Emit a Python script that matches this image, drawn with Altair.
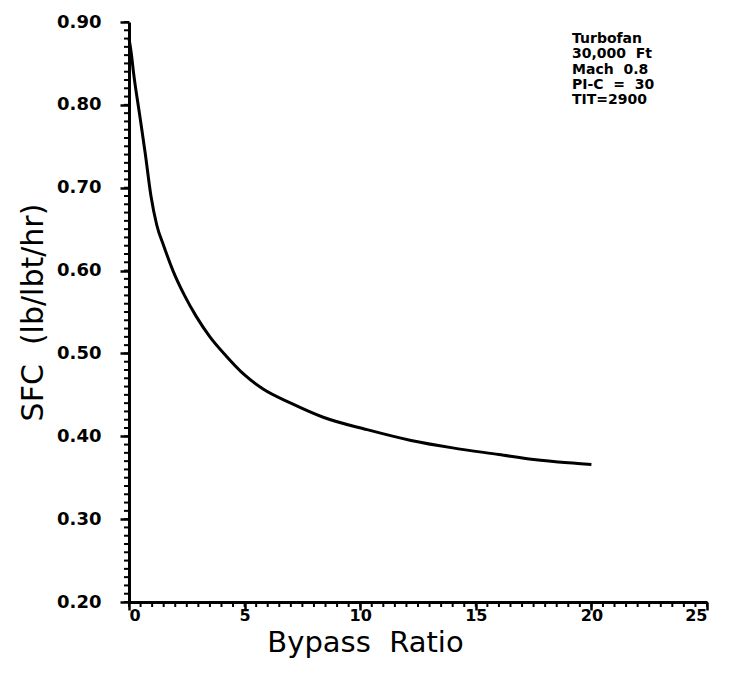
import altair as alt
import pandas as pd

# Data
bypass = [0.0, 0.1, 0.2, 0.45, 0.7, 0.95, 1.2, 1.5, 1.9, 2.4, 2.9, 3.5, 4.2, 5.0, 5.8, 7.0, 8.4, 10.3, 12.2, 14.0, 16.0, 17.5, 19.0, 20.0]
sfc = [0.880, 0.862, 0.838, 0.790, 0.742, 0.690, 0.655, 0.630, 0.600, 0.570, 0.545, 0.520, 0.497, 0.474, 0.457, 0.440, 0.423, 0.408, 0.395, 0.386, 0.378, 0.372, 0.368, 0.366]

y_major = [0.20, 0.30, 0.40, 0.50, 0.60, 0.70, 0.80, 0.90]
x_major = [0, 5, 10, 15, 20, 25]
y_minor = [round(0.20 + 0.01 * i, 2) for i in range(71)]
x_minor = [0.5 * i for i in range(51)]

NB = "\u00a0"
annotation_lines = ["Turbofan", f"30,000{NB}{NB}Ft", f"Mach{NB}{NB}0.8", f"PI-C{NB}{NB}={NB}{NB}30", "TIT=2900"]
x_title = f"Bypass{NB}{NB}Ratio"
y_title = f"SFC{NB}{NB}(lb/lbt/hr)"

W, H = 578, 580
FONT = "DejaVu Sans"

df = pd.DataFrame({"bypass": bypass, "sfc": sfc})
ymin_df = pd.DataFrame({"bypass": [0.0] * len(y_minor), "sfc": y_minor})
xmin_df = pd.DataFrame({"bypass": x_minor, "sfc": [0.2] * len(x_minor)})

xscale = alt.Scale(domain=[0, 25], nice=False, zero=False)
yscale = alt.Scale(domain=[0.20, 0.90], nice=False, zero=False)

xaxis = alt.Axis(
    values=x_major, title=x_title, grid=False,
    domainColor="black", domainWidth=3, tickColor="black", tickWidth=2.5, tickSize=8,
    labelFont=FONT, labelFontSize=16, labelFontWeight="bold", labelColor="black", labelPadding=-3,
    titleFont=FONT, titleFontSize=29, titleFontWeight="normal", titleColor="black",
    titleX=236, titleY=49, titleBaseline="alphabetic", titleAlign="center")
yaxis = alt.Axis(
    values=y_major, format=".2f", title=y_title, grid=False,
    domainColor="black", domainWidth=3, tickColor="black", tickWidth=2.5, tickSize=9,
    labelFont=FONT, labelFontSize=18, labelFontWeight="bold", labelColor="black", labelPadding=19,
    titleFont=FONT, titleFontSize=30, titleFontWeight="normal", titleColor="black",
    titleX=-96, titleY=290, titleAngle=-90, titleBaseline="middle", titleAlign="center")

X = lambda: alt.X("bypass:Q", scale=xscale, axis=xaxis)
Y = lambda: alt.Y("sfc:Q", scale=yscale, axis=yaxis)

line = alt.Chart(df).mark_line(color="black", strokeWidth=3, interpolate="monotone").encode(
    x=X(), y=Y(),
)

yminor = alt.Chart(ymin_df).mark_rule(color="black", strokeWidth=2).encode(
    y=Y(), x=alt.value(-5), x2=alt.value(0),
)

xminor = alt.Chart(xmin_df).mark_rule(color="black", strokeWidth=2).encode(
    x=X(), y=alt.value(H), y2=alt.value(H + 5),
)

note = alt.Chart(pd.DataFrame({"a": [0]})).mark_text(
    align="left", baseline="top", font=FONT, fontSize=14, fontWeight="bold",
    lineHeight=15.3, color="black"
).encode(
    x=alt.value(443), y=alt.value(10), text=alt.value(annotation_lines)
)

chart = alt.layer(line, yminor, xminor, note).properties(
    width=W, height=H,
    background="white",
    autosize=alt.AutoSizeParams(type="none"),
    padding={"left": 129, "top": 22, "right": 23, "bottom": 76},
).configure_view(stroke=None)

chart.save("out.html", embed_options={"renderer": "svg", "actions": False})
